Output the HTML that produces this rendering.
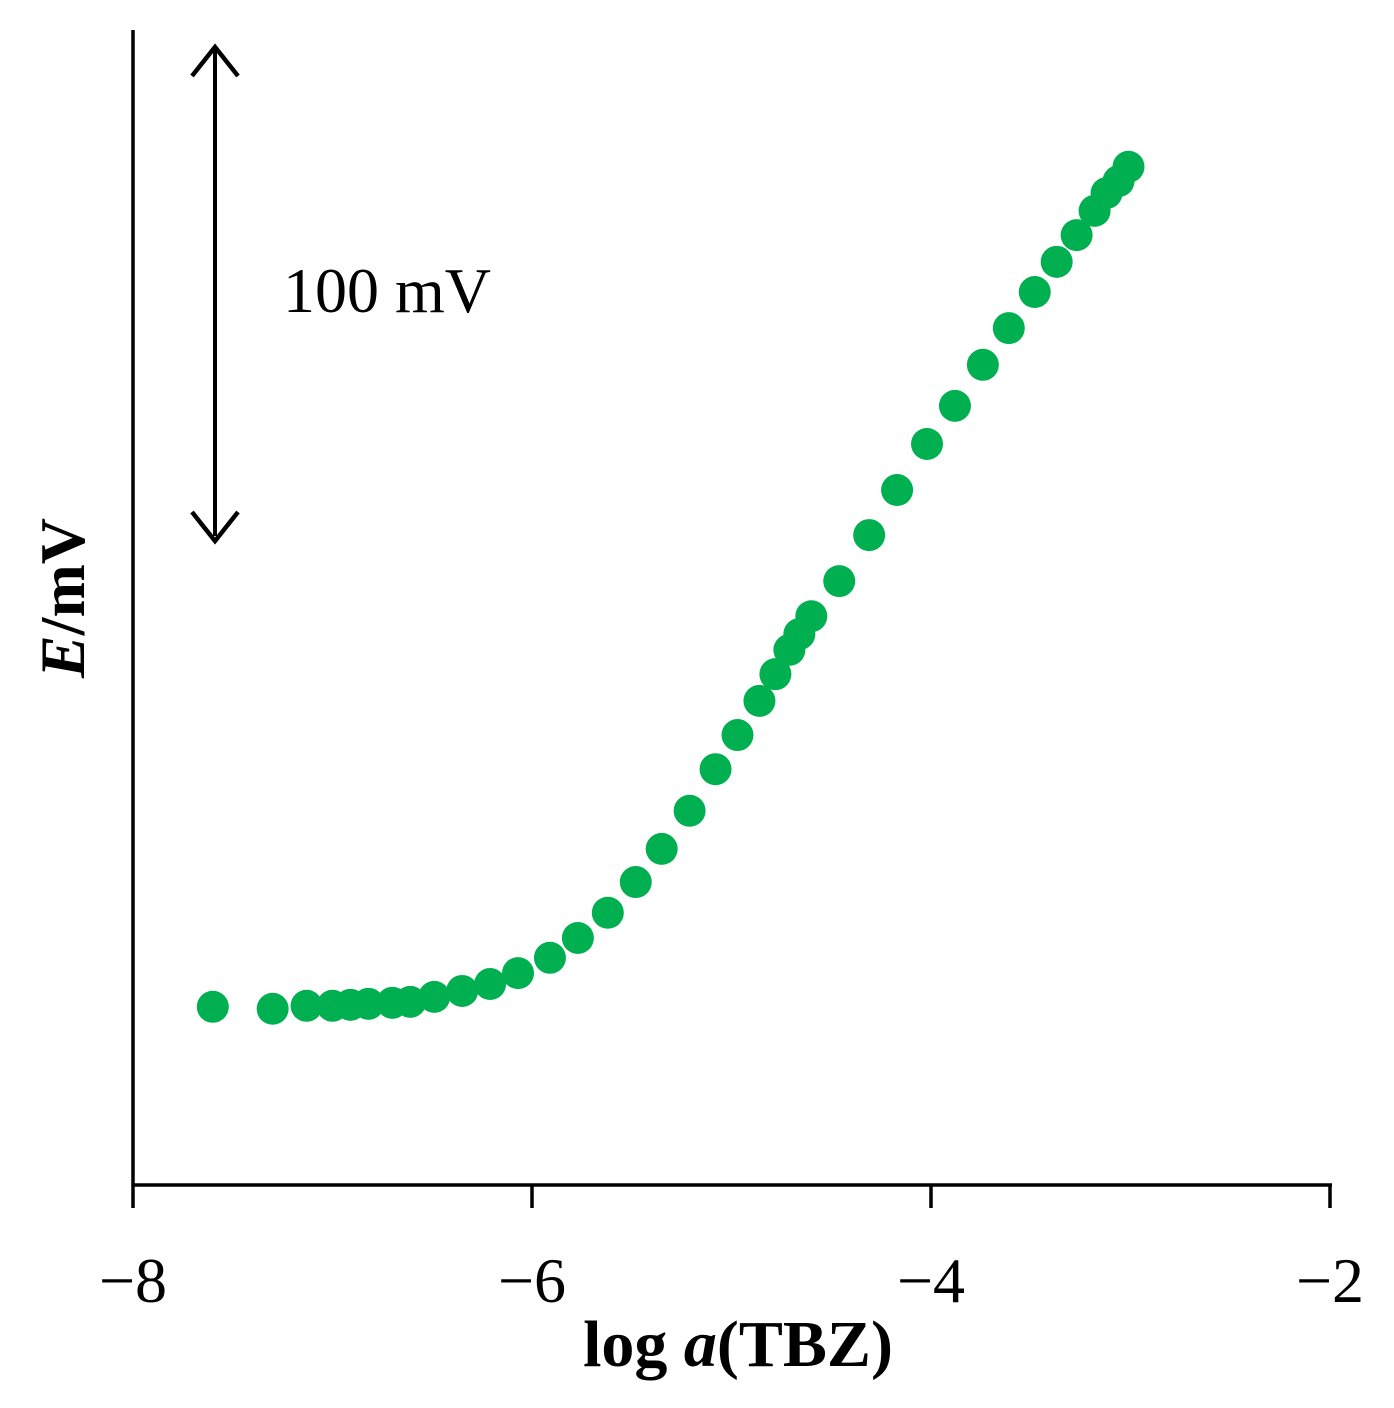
<!DOCTYPE html>
<html><head><meta charset="utf-8"><style>
html,body{margin:0;padding:0;background:#fff;}
svg{display:block;font-family:"Liberation Serif",serif;}
</style></head><body>
<svg id="chart" width="1394" height="1408" viewBox="0 0 1394 1408">
<g id="axes"></g>
<g id="points"></g>
<g>
<line x1="215" y1="50" x2="215" y2="536" stroke="#000" stroke-width="4"/>
<polyline points="192,76 215,47 238,76" fill="none" stroke="#000" stroke-width="4.5"/>
<polyline points="192,512 215,541 238,512" fill="none" stroke="#000" stroke-width="4.5"/>
<text x="283" y="312" font-size="64">100 mV</text>
</g>
<text x="738" y="1366" font-size="66" font-weight="bold" text-anchor="middle">log <tspan font-style="italic">a</tspan>(TBZ)</text>
<text transform="translate(84,598) rotate(-90)" font-size="64" font-weight="bold" text-anchor="middle"><tspan font-style="italic">E</tspan>/mV</text>
</svg>
<script>
const logA = [-7.60,-7.30,-7.13,-7.00,-6.91,-6.82,-6.70,-6.61,-6.49,-6.35,-6.21,-6.07,-5.91,-5.77,-5.62,-5.48,-5.35,-5.21,-5.08,-4.97,-4.86,-4.78,-4.71,-4.66,-4.60,-4.46,-4.31,-4.17,-4.02,-3.88,-3.74,-3.61,-3.48,-3.37,-3.27,-3.18,-3.12,-3.06,-3.01];
const potential = [36.0,35.6,36.2,36.2,36.4,36.6,36.8,37.0,38.0,39.2,40.6,42.8,45.9,49.9,55.0,61.2,67.9,75.6,84.0,90.9,97.8,103.2,108.1,111.3,114.9,122.0,131.3,140.4,149.7,157.4,165.7,173.1,180.4,186.5,191.9,196.8,200.4,202.8,205.7];
const xTicks = [-8,-6,-4,-2];
const xTickLabels = ["\u22128","\u22126","\u22124","\u22122"];
const NS="http://www.w3.org/2000/svg";
function xs(v){return 133+(v+8)*199.5;}
function ys(v){return 1185-v*4.95;}
const axes=document.getElementById('axes');
function mk(tag,attrs,parent){const e=document.createElementNS(NS,tag);for(const k in attrs)e.setAttribute(k,attrs[k]);parent.appendChild(e);return e;}
let yl=mk('line',{x1:133,y1:30,x2:133,y2:1186,stroke:'#000','stroke-width':3.5},axes);


let xl=mk('line',{x1:132,y1:1185,x2:1332,y2:1185,stroke:'#000','stroke-width':3.5},axes);


xTicks.forEach((t,i)=>{
  let tk=mk('line',{x1:xs(t),y1:1185,x2:xs(t),y2:1208,stroke:'#000','stroke-width':3.5},axes);
  
  
  let lb=mk('text',{x:xs(t),y:1302,'font-size':64,'text-anchor':'middle'},axes);
  lb.textContent=xTickLabels[i];
  
  
});
const pts=document.getElementById('points');
logA.forEach((v,i)=>{
  let c=mk('circle',{cx:xs(v),cy:ys(potential[i]),r:16,fill:'#00b050'},pts);
  
  
});
</script>
</body></html>
